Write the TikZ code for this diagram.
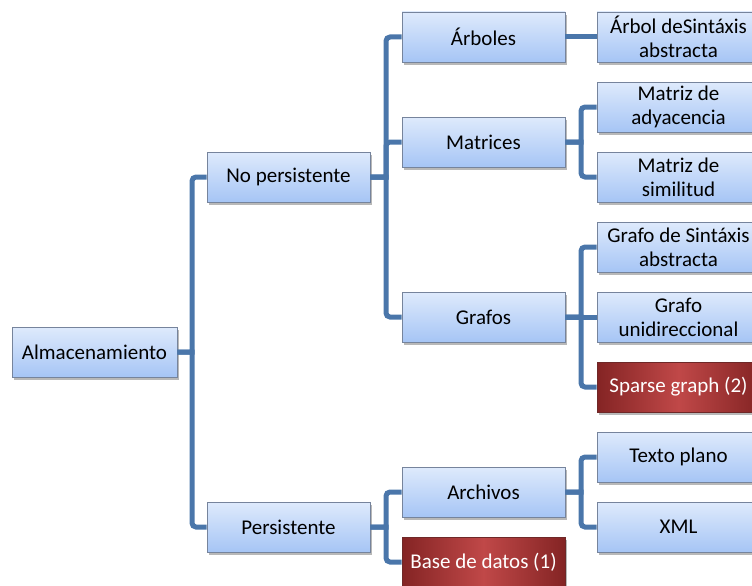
\documentclass[tikz,border=0pt]{standalone}
\usepackage{fontspec}
\setmainfont{Carlito}
\usetikzlibrary{calc,shadows}

\definecolor{linkblue}{RGB}{74,118,170}
\definecolor{boxtop}{RGB}{222,234,252}
\definecolor{boxbot}{RGB}{166,197,245}
\definecolor{boxedge}{RGB}{118,132,156}
\definecolor{redside}{RGB}{132,36,36}
\definecolor{redmid}{RGB}{192,72,72}
\definecolor{rededge}{RGB}{110,40,40}

\begin{document}
\begin{tikzpicture}[x=1pt,y=-1pt,
  box/.style={draw=boxedge, line width=0.7pt, top color=boxtop, bottom color=boxbot,
    minimum width=163pt, minimum height=50pt, inner sep=0pt, align=center,
    font=\fontsize{21}{24}\selectfont,
    drop shadow={shadow xshift=2pt, shadow yshift=-3pt, opacity=0.35, fill=black!80}},
  redbox/.style={box, draw=rededge, left color=redside, right color=redside,
    middle color=redmid, text=white},
  link/.style={draw=linkblue, line width=5pt,
    to path={(\tikztostart) -| ($(\tikztostart)!0.5!(\tikztotarget)$)
      [rounded corners=4pt] |- (\tikztotarget)}},
  straight/.style={draw=linkblue, line width=5pt}]

\useasboundingbox (0,0) rectangle (752,586);
\clip (0,0) rectangle (752,586);

% root
\node[box, minimum width=165pt] (alm) at (94.5,352) {Almacenamiento};

% second level
\node[box] (nop) at (288.5,177) {No persistente};
\node[box] (per) at (288.5,527) {Persistente};

% third level
\node[box] (arb) at (483.5,37)  {Árboles};
\node[box] (mat) at (483.5,142) {Matrices};
\node[box] (gra) at (483.5,317) {Grafos};
\node[box] (arc) at (483.5,492) {Archivos};
\node[redbox] (bdd) at (483.5,562) {Base de datos (1)};

% leaves
\node[box] (ast)  at (678.5,37)  {Árbol deSintáxis\\abstracta};
\node[box] (mady) at (678.5,107) {Matriz de\\adyacencia};
\node[box] (msim) at (678.5,177) {Matriz de\\similitud};
\node[box] (gsin) at (678.5,247) {Grafo de Sintáxis\\abstracta};
\node[box] (guni) at (678.5,317) {Grafo\\unidireccional};
\node[redbox] (spg) at (678.5,387) {Sparse graph (2)};
\node[box] (txt)  at (678.5,457) {Texto plano};
\node[box] (xml)  at (678.5,527) {XML};

% connectors
\draw[link] (alm.east) to (nop.west);
\draw[link] (alm.east) to (per.west);

\draw[link] (nop.east) to (arb.west);
\draw[link] (nop.east) to (mat.west);
\draw[link] (nop.east) to (gra.west);

\draw[link] (per.east) to (arc.west);
\draw[link] (per.east) to (bdd.west);

\draw[straight] (arb.east) -- (ast.west);
\draw[link] (mat.east) to (mady.west);
\draw[link] (mat.east) to (msim.west);

\draw[link] (gra.east) to (gsin.west);
\draw[straight] (gra.east) -- (guni.west);
\draw[link] (gra.east) to (spg.west);

\draw[link] (arc.east) to (txt.west);
\draw[link] (arc.east) to (xml.west);
\end{tikzpicture}
\end{document}
